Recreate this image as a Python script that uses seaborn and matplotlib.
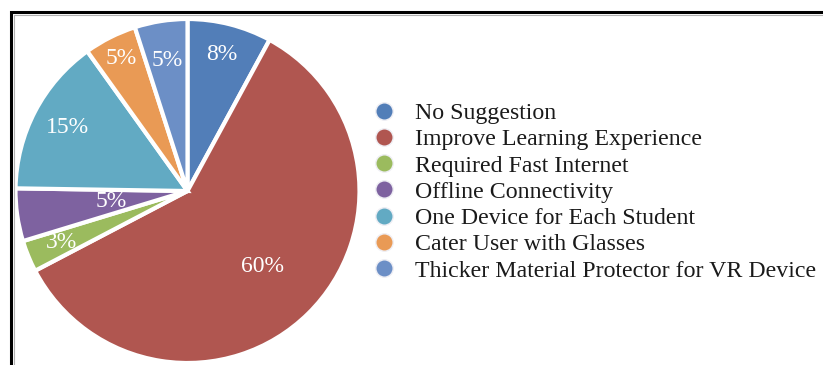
import matplotlib
matplotlib.use("Agg")
import matplotlib.pyplot as plt
from matplotlib.lines import Line2D
import numpy as np
import seaborn as sns

# Survey responses: suggestions for improving the VR learning setup
categories = [
    "No Suggestion",
    "Improve Learning Experience",
    "Required Fast Internet",
    "Offline Connectivity",
    "One Device for Each Student",
    "Cater User with Glasses",
    "Thicker Material Protector for VR Device",
]
percentages = [8, 60, 3, 5, 15, 5, 5]
slice_colors = ["#527EB8", "#B05650", "#9BBB5E", "#7E62A0", "#62AAC3", "#E99A55", "#6C8FC6"]

sns.set_theme(style="white")
plt.rcParams["font.family"] = ["Liberation Serif", "DejaVu Serif"]

W, H = 823, 365
fig = plt.figure(figsize=(W / 100, H / 100), dpi=100)

# Pie axes placed in pixel units
cx, cy, r = 187.5, 191.0, 172.0
ax = fig.add_axes([(cx - r) / W, (H - cy - r) / H, 2 * r / W, 2 * r / H])
palette = sns.color_palette(slice_colors)

wedges, _ = ax.pie(
    percentages,
    colors=palette,
    startangle=90,
    counterclock=False,
    radius=1.0,
    wedgeprops=dict(edgecolor="white", linewidth=3.0),
)
ax.set_xlim(-1, 1)
ax.set_ylim(-1, 1)
ax.set_aspect("equal")
ax.axis("off")

# Percent labels, each at its own radial distance within the wedge
label_radius = [0.82, 0.62, 0.79, 0.45, 0.79, 0.86, 0.77]
for w, v, d in zip(wedges, percentages, label_radius):
    mid = np.deg2rad((w.theta1 + w.theta2) / 2)
    ax.text(d * np.cos(mid), d * np.sin(mid), f"{v}%", color="white",
            fontsize=17, ha="center", va="center")

# Legend with round markers
handles = [Line2D([0], [0], marker="o", linestyle="none", markersize=12.5,
                  markerfacecolor=c, markeredgecolor="#EEEEF4", markeredgewidth=1.0)
           for c in palette]
leg = fig.legend(handles, categories, loc="center left",
                 bbox_to_anchor=(372 / W, 1 - 192 / H), frameon=False,
                 fontsize=17.2, handlelength=1.0, handletextpad=0.8,
                 labelspacing=0.19, borderpad=0, borderaxespad=0)
for t in leg.get_texts():
    t.set_color("#1a1a1a")

# Frame lines along the top and left edges
fig.add_artist(Line2D([11 / W, 11 / W, 1], [0, 1 - 12 / H, 1 - 12 / H],
                      transform=fig.transFigure, color="black", linewidth=2.2,
                      solid_joinstyle="miter"))
fig.add_artist(Line2D([13.5 / W, 13.5 / W, 1], [0, 1 - 14.5 / H, 1 - 14.5 / H],
                      transform=fig.transFigure, color="#B0B0B0", linewidth=0.8))

fig.savefig("out.png", dpi=100)
